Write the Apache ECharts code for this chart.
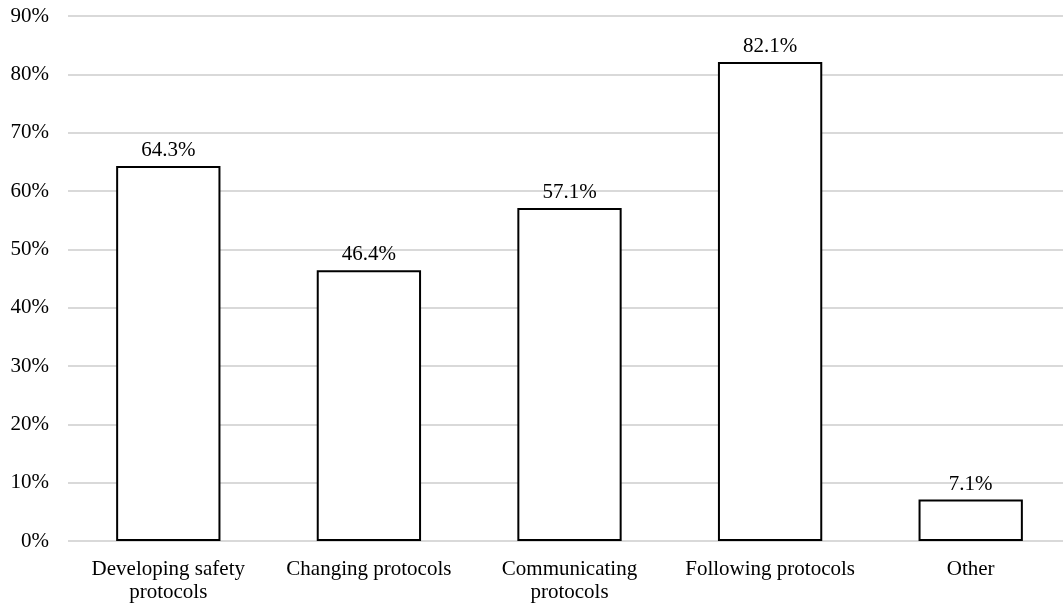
<!DOCTYPE html>
<html>
<head>
<meta charset="utf-8">
<script src="https://cdn.jsdelivr.net/npm/echarts@6/dist/echarts.min.js"></script>
<style>
  html, body { margin: 0; padding: 0; background: #fff; overflow: hidden; }
  /* plot runs slightly past the right edge of the window */
  #chart { width: 1071px; height: 604px; }
</style>
</head>
<body>
<div id="chart"></div>
<script>
const categories = [
  'Developing safety\nprotocols',
  'Changing protocols',
  'Communicating\nprotocols',
  'Following protocols',
  'Other'
];
const shares = [64.3, 46.4, 57.1, 82.1, 7.1];

const font = '"Liberation Serif", "Times New Roman", serif';

const chart = echarts.init(document.getElementById('chart'));
chart.setOption({
  backgroundColor: '#ffffff',
  animation: false,
  grid: { left: 68, top: 16, right: 0, bottom: 63, containLabel: false },
  xAxis: {
    type: 'category',
    data: categories,
    axisLine: { show: false },
    axisTick: { show: false },
    axisLabel: {
      color: '#000',
      fontFamily: font,
      fontSize: 21,
      lineHeight: 23,
      margin: 17,
      interval: 0
    }
  },
  yAxis: {
    type: 'value',
    min: 0,
    max: 90,
    interval: 10,
    axisLine: { show: false },
    axisTick: { show: false },
    splitLine: { lineStyle: { color: '#d9d9d9', width: 2 } },
    axisLabel: {
      color: '#000',
      fontFamily: font,
      fontSize: 21,
      margin: 19,
      formatter: v => v + '%'
    }
  },
  series: [{
    type: 'bar',
    data: shares,
    barWidth: '52%',
    itemStyle: { color: '#ffffff', borderColor: '#000000', borderWidth: 2 },
    label: {
      show: true,
      position: 'top',
      distance: 5,
      color: '#000',
      fontFamily: font,
      fontSize: 21,
      formatter: p => p.value.toFixed(1) + '%'
    }
  }]
});
</script>
</body>
</html>
